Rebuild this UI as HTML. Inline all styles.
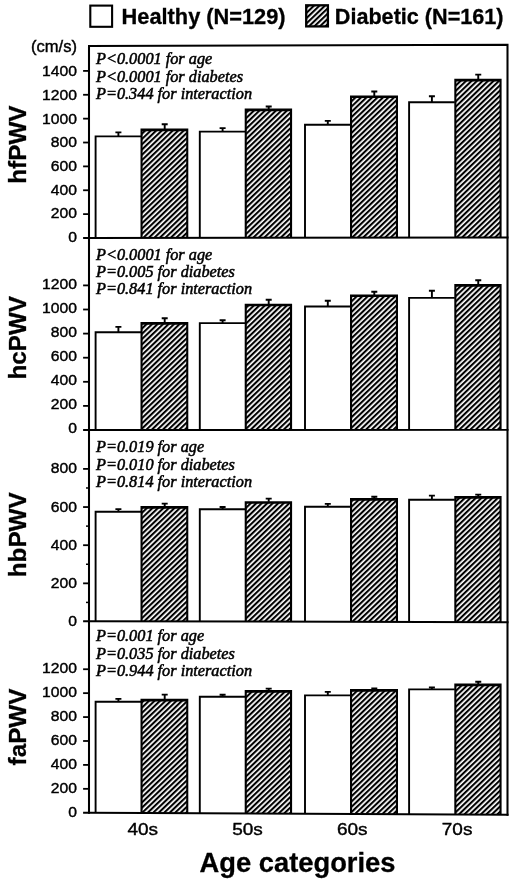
<!DOCTYPE html>
<html lang="en"><head><meta charset="utf-8"><title>PWV by age categories</title>
<style>
html,body{margin:0;padding:0;background:#fff;}
body{width:520px;height:882px;overflow:hidden;}
svg{display:block;}
.s{font-family:"Liberation Sans",Arial,Helvetica,sans-serif;fill:#000;stroke:#000;stroke-width:0.4px;}
.b{font-weight:bold;stroke-width:0.3px;}
.t{font-family:"Liberation Serif","Times New Roman",serif;font-style:italic;fill:#000;stroke:#000;stroke-width:0.5px;}
</style></head><body>
<svg width="520" height="882" viewBox="0 0 520 882">
<defs>
<pattern id="h" patternUnits="userSpaceOnUse" width="3.8" height="3.8" patternTransform="rotate(-43.8)">
<rect x="0" y="0" width="3.8" height="3.8" fill="#fff"/>
<rect x="0" y="0" width="3.8" height="2.1" fill="#000"/>
</pattern>
</defs>
<rect width="520" height="882" fill="#fff"/>

<rect x="90.3" y="5.6" width="21.8" height="21.2" fill="#fff" stroke="#000" stroke-width="2.1"/>
<text class="s b" transform="translate(121.60 24.10) scale(1.018 1)" font-size="21.4">Healthy (N=129)</text>
<rect x="306.2" y="5.3" width="21.7" height="21.1" fill="url(#h)" stroke="#000" stroke-width="2.3"/>
<text class="s b" transform="translate(334.80 23.60) scale(1.01 1)" font-size="21.4">Diabetic (N=161)</text>
<text class="s" transform="translate(31.00 52.00) scale(1.035 1)" font-size="16.0">(cm/s)</text>
<path d="M95.60 237.99V136.40H141.00" fill="none" stroke="#000" stroke-width="1.9"/>
<path d="M118.40 136.40V132.40M115.40 132.40H121.40" stroke="#000" stroke-width="1.9" fill="none"/>
<path d="M140.50 128.45H188.30V237.87L140.50 237.93Z" fill="#000"/>
<path d="M142.60 131.15H186.20V237.87L142.60 237.93Z" fill="url(#h)"/>
<path d="M164.70 128.95V124.30M161.70 124.30H167.70" stroke="#000" stroke-width="1.9" fill="none"/>
<path d="M199.80 237.85V131.60H245.20" fill="none" stroke="#000" stroke-width="1.9"/>
<path d="M222.60 131.60V128.10M219.60 128.10H225.60" stroke="#000" stroke-width="1.9" fill="none"/>
<path d="M244.70 108.50H292.10V237.73L244.70 237.80Z" fill="#000"/>
<path d="M246.80 111.20H290.00V237.73L246.80 237.80Z" fill="url(#h)"/>
<path d="M268.70 109.00V106.50M265.70 106.50H271.70" stroke="#000" stroke-width="1.9" fill="none"/>
<path d="M305.00 237.72V124.80H350.50" fill="none" stroke="#000" stroke-width="1.9"/>
<path d="M327.80 124.80V120.90M324.80 120.90H330.80" stroke="#000" stroke-width="1.9" fill="none"/>
<path d="M350.00 95.40H398.00V237.59L350.00 237.66Z" fill="#000"/>
<path d="M352.10 98.10H395.90V237.59L352.10 237.66Z" fill="url(#h)"/>
<path d="M374.30 95.90V91.50M371.30 91.50H377.30" stroke="#000" stroke-width="1.9" fill="none"/>
<path d="M409.10 237.58V102.20H454.80" fill="none" stroke="#000" stroke-width="1.9"/>
<path d="M431.90 102.20V96.20M428.90 96.20H434.90" stroke="#000" stroke-width="1.9" fill="none"/>
<path d="M454.30 78.85H501.60V237.46L454.30 237.52Z" fill="#000"/>
<path d="M456.40 81.55H499.50V237.46L456.40 237.52Z" fill="url(#h)"/>
<path d="M478.25 79.35V74.60M475.25 74.60H481.25" stroke="#000" stroke-width="1.9" fill="none"/>
<path d="M95.60 430.00V332.30H141.00" fill="none" stroke="#000" stroke-width="1.9"/>
<path d="M118.40 332.30V326.90M115.40 326.90H121.40" stroke="#000" stroke-width="1.9" fill="none"/>
<path d="M140.50 322.10H188.30V429.96L140.50 429.98Z" fill="#000"/>
<path d="M142.60 324.80H186.20V429.96L142.60 429.98Z" fill="url(#h)"/>
<path d="M164.70 322.60V318.30M161.70 318.30H167.70" stroke="#000" stroke-width="1.9" fill="none"/>
<path d="M199.80 429.96V323.10H245.20" fill="none" stroke="#000" stroke-width="1.9"/>
<path d="M222.60 323.10V320.20M219.60 320.20H225.60" stroke="#000" stroke-width="1.9" fill="none"/>
<path d="M244.70 303.65H292.10V429.93L244.70 429.94Z" fill="#000"/>
<path d="M246.80 306.35H290.00V429.93L246.80 429.94Z" fill="url(#h)"/>
<path d="M268.70 304.15V299.80M265.70 299.80H271.70" stroke="#000" stroke-width="1.9" fill="none"/>
<path d="M305.00 429.92V306.50H350.50" fill="none" stroke="#000" stroke-width="1.9"/>
<path d="M327.80 306.50V300.80M324.80 300.80H330.80" stroke="#000" stroke-width="1.9" fill="none"/>
<path d="M350.00 294.40H398.00V429.89L350.00 429.91Z" fill="#000"/>
<path d="M352.10 297.10H395.90V429.89L352.10 429.91Z" fill="url(#h)"/>
<path d="M374.30 294.90V291.70M371.30 291.70H377.30" stroke="#000" stroke-width="1.9" fill="none"/>
<path d="M409.10 429.89V297.90H454.80" fill="none" stroke="#000" stroke-width="1.9"/>
<path d="M431.90 297.90V290.80M428.90 290.80H434.90" stroke="#000" stroke-width="1.9" fill="none"/>
<path d="M454.30 284.00H501.60V429.85L454.30 429.87Z" fill="#000"/>
<path d="M456.40 286.70H499.50V429.85L456.40 429.87Z" fill="url(#h)"/>
<path d="M478.25 284.50V280.20M475.25 280.20H481.25" stroke="#000" stroke-width="1.9" fill="none"/>
<path d="M95.60 621.17V511.70H141.00" fill="none" stroke="#000" stroke-width="1.9"/>
<path d="M118.40 511.70V509.10M115.40 509.10H121.40" stroke="#000" stroke-width="1.9" fill="none"/>
<path d="M140.50 505.95H188.30V621.40L140.50 621.28Z" fill="#000"/>
<path d="M142.60 508.65H186.20V621.40L142.60 621.28Z" fill="url(#h)"/>
<path d="M164.70 506.45V503.65M161.70 503.65H167.70" stroke="#000" stroke-width="1.9" fill="none"/>
<path d="M199.80 621.43V509.20H245.20" fill="none" stroke="#000" stroke-width="1.9"/>
<path d="M222.60 509.20V507.00M219.60 507.00H225.60" stroke="#000" stroke-width="1.9" fill="none"/>
<path d="M244.70 501.15H292.10V621.66L244.70 621.54Z" fill="#000"/>
<path d="M246.80 503.85H290.00V621.66L246.80 621.54Z" fill="url(#h)"/>
<path d="M268.70 501.65V498.65M265.70 498.65H271.70" stroke="#000" stroke-width="1.9" fill="none"/>
<path d="M305.00 621.69V506.70H350.50" fill="none" stroke="#000" stroke-width="1.9"/>
<path d="M327.80 506.70V503.85M324.80 503.85H330.80" stroke="#000" stroke-width="1.9" fill="none"/>
<path d="M350.00 498.10H398.00V621.93L350.00 621.80Z" fill="#000"/>
<path d="M352.10 500.80H395.90V621.93L352.10 621.80Z" fill="url(#h)"/>
<path d="M374.30 498.60V496.70M371.30 496.70H377.30" stroke="#000" stroke-width="1.9" fill="none"/>
<path d="M409.10 621.95V499.80H454.80" fill="none" stroke="#000" stroke-width="1.9"/>
<path d="M431.90 499.80V495.60M428.90 495.60H434.90" stroke="#000" stroke-width="1.9" fill="none"/>
<path d="M454.30 495.95H501.60V622.19L454.30 622.07Z" fill="#000"/>
<path d="M456.40 498.65H499.50V622.19L456.40 622.07Z" fill="url(#h)"/>
<path d="M478.25 496.45V494.60M475.25 494.60H481.25" stroke="#000" stroke-width="1.9" fill="none"/>
<path d="M95.60 812.78V701.70H141.00" fill="none" stroke="#000" stroke-width="1.9"/>
<path d="M118.40 701.70V698.85M115.40 698.85H121.40" stroke="#000" stroke-width="1.9" fill="none"/>
<path d="M140.50 698.85H188.30V813.24L140.50 813.00Z" fill="#000"/>
<path d="M142.60 701.55H186.20V813.24L142.60 813.00Z" fill="url(#h)"/>
<path d="M164.70 699.35V694.60M161.70 694.60H167.70" stroke="#000" stroke-width="1.9" fill="none"/>
<path d="M199.80 813.29V696.70H245.20" fill="none" stroke="#000" stroke-width="1.9"/>
<path d="M222.60 696.70V694.80M219.60 694.80H225.60" stroke="#000" stroke-width="1.9" fill="none"/>
<path d="M244.70 690.00H292.10V813.74L244.70 813.51Z" fill="#000"/>
<path d="M246.80 692.70H290.00V813.74L246.80 813.51Z" fill="url(#h)"/>
<path d="M268.70 690.50V688.65M265.70 688.65H271.70" stroke="#000" stroke-width="1.9" fill="none"/>
<path d="M305.00 813.81V695.40H350.50" fill="none" stroke="#000" stroke-width="1.9"/>
<path d="M327.80 695.40V691.90M324.80 691.90H330.80" stroke="#000" stroke-width="1.9" fill="none"/>
<path d="M350.00 689.00H398.00V814.26L350.00 814.03Z" fill="#000"/>
<path d="M352.10 691.70H395.90V814.26L352.10 814.03Z" fill="url(#h)"/>
<path d="M374.30 689.50V688.40M371.30 688.40H377.30" stroke="#000" stroke-width="1.9" fill="none"/>
<path d="M409.10 814.32V689.40H454.80" fill="none" stroke="#000" stroke-width="1.9"/>
<path d="M431.90 689.40V687.50M428.90 687.50H434.90" stroke="#000" stroke-width="1.9" fill="none"/>
<path d="M454.30 683.45H501.60V814.77L454.30 814.54Z" fill="#000"/>
<path d="M456.40 686.15H499.50V814.77L456.40 814.54Z" fill="url(#h)"/>
<path d="M478.25 683.95V681.70M475.25 681.70H481.25" stroke="#000" stroke-width="1.9" fill="none"/>
<path d="M89.0 813.7V45.9L507.5 44.85V815.75" fill="none" stroke="#000" stroke-width="2.05" stroke-linejoin="miter"/>
<path d="M83.1 238.0H89.0L508.5 237.45" fill="none" stroke="#000" stroke-width="1.95"/>
<path d="M83.1 430.0H89.0L508.5 429.85" fill="none" stroke="#000" stroke-width="1.95"/>
<path d="M83.1 621.15H89.0L508.5 622.2" fill="none" stroke="#000" stroke-width="1.95"/>
<path d="M83.1 812.75H89.0L508.5 814.8" fill="none" stroke="#000" stroke-width="1.95"/>
<text class="s" transform="translate(76.90 242.08) scale(1.068 1)" font-size="14.7" text-anchor="end">0</text>
<path d="M83.1 214.13H89.0" stroke="#000" stroke-width="1.8"/>
<text class="s" transform="translate(76.90 218.39) scale(1.068 1)" font-size="14.7" text-anchor="end">200</text>
<path d="M83.1 190.26H89.0" stroke="#000" stroke-width="1.8"/>
<text class="s" transform="translate(76.90 194.70) scale(1.068 1)" font-size="14.7" text-anchor="end">400</text>
<path d="M83.1 166.39H89.0" stroke="#000" stroke-width="1.8"/>
<text class="s" transform="translate(76.90 171.01) scale(1.068 1)" font-size="14.7" text-anchor="end">600</text>
<path d="M83.1 142.52H89.0" stroke="#000" stroke-width="1.8"/>
<text class="s" transform="translate(76.90 147.33) scale(1.068 1)" font-size="14.7" text-anchor="end">800</text>
<path d="M83.1 118.65H89.0" stroke="#000" stroke-width="1.8"/>
<text class="s" transform="translate(76.90 123.64) scale(1.068 1)" font-size="14.7" text-anchor="end">1000</text>
<path d="M83.1 94.78H89.0" stroke="#000" stroke-width="1.8"/>
<text class="s" transform="translate(76.90 99.95) scale(1.068 1)" font-size="14.7" text-anchor="end">1200</text>
<path d="M83.1 70.91H89.0" stroke="#000" stroke-width="1.8"/>
<text class="s" transform="translate(76.90 76.26) scale(1.068 1)" font-size="14.7" text-anchor="end">1400</text>
<text class="s" transform="translate(76.90 432.85) scale(1.068 1)" font-size="14.7" text-anchor="end">0</text>
<path d="M83.1 405.90H89.0" stroke="#000" stroke-width="1.8"/>
<text class="s" transform="translate(76.90 408.93) scale(1.068 1)" font-size="14.7" text-anchor="end">200</text>
<path d="M83.1 381.80H89.0" stroke="#000" stroke-width="1.8"/>
<text class="s" transform="translate(76.90 385.02) scale(1.068 1)" font-size="14.7" text-anchor="end">400</text>
<path d="M83.1 357.70H89.0" stroke="#000" stroke-width="1.8"/>
<text class="s" transform="translate(76.90 361.10) scale(1.068 1)" font-size="14.7" text-anchor="end">600</text>
<path d="M83.1 333.60H89.0" stroke="#000" stroke-width="1.8"/>
<text class="s" transform="translate(76.90 337.18) scale(1.068 1)" font-size="14.7" text-anchor="end">800</text>
<path d="M83.1 309.50H89.0" stroke="#000" stroke-width="1.8"/>
<text class="s" transform="translate(76.90 313.27) scale(1.068 1)" font-size="14.7" text-anchor="end">1000</text>
<path d="M83.1 285.40H89.0" stroke="#000" stroke-width="1.8"/>
<text class="s" transform="translate(76.90 289.35) scale(1.068 1)" font-size="14.7" text-anchor="end">1200</text>
<text class="s" transform="translate(76.90 625.85) scale(1.068 1)" font-size="14.7" text-anchor="end">0</text>
<path d="M83.1 583.35H89.0" stroke="#000" stroke-width="1.8"/>
<text class="s" transform="translate(76.90 587.75) scale(1.068 1)" font-size="14.7" text-anchor="end">200</text>
<path d="M83.1 545.20H89.0" stroke="#000" stroke-width="1.8"/>
<text class="s" transform="translate(76.90 549.65) scale(1.068 1)" font-size="14.7" text-anchor="end">400</text>
<path d="M83.1 507.05H89.0" stroke="#000" stroke-width="1.8"/>
<text class="s" transform="translate(76.90 511.55) scale(1.068 1)" font-size="14.7" text-anchor="end">600</text>
<path d="M83.1 468.90H89.0" stroke="#000" stroke-width="1.8"/>
<text class="s" transform="translate(76.90 473.45) scale(1.068 1)" font-size="14.7" text-anchor="end">800</text>
<path d="M86.0 602.42H89.0" stroke="#000" stroke-width="1.5"/>
<path d="M86.0 564.27H89.0" stroke="#000" stroke-width="1.5"/>
<path d="M86.0 526.12H89.0" stroke="#000" stroke-width="1.5"/>
<path d="M86.0 487.98H89.0" stroke="#000" stroke-width="1.5"/>
<text class="s" transform="translate(76.90 816.65) scale(1.068 1)" font-size="14.7" text-anchor="end">0</text>
<path d="M83.1 788.83H89.0" stroke="#000" stroke-width="1.8"/>
<text class="s" transform="translate(76.90 792.77) scale(1.068 1)" font-size="14.7" text-anchor="end">200</text>
<path d="M83.1 764.91H89.0" stroke="#000" stroke-width="1.8"/>
<text class="s" transform="translate(76.90 768.89) scale(1.068 1)" font-size="14.7" text-anchor="end">400</text>
<path d="M83.1 740.99H89.0" stroke="#000" stroke-width="1.8"/>
<text class="s" transform="translate(76.90 745.01) scale(1.068 1)" font-size="14.7" text-anchor="end">600</text>
<path d="M83.1 717.07H89.0" stroke="#000" stroke-width="1.8"/>
<text class="s" transform="translate(76.90 721.14) scale(1.068 1)" font-size="14.7" text-anchor="end">800</text>
<path d="M83.1 693.15H89.0" stroke="#000" stroke-width="1.8"/>
<text class="s" transform="translate(76.90 697.26) scale(1.068 1)" font-size="14.7" text-anchor="end">1000</text>
<path d="M83.1 669.23H89.0" stroke="#000" stroke-width="1.8"/>
<text class="s" transform="translate(76.90 673.38) scale(1.068 1)" font-size="14.7" text-anchor="end">1200</text>
<text class="t" transform="translate(96.00 64.40) scale(1.018 1)" font-size="16">P&lt;0.0001 for age</text>
<text class="t" transform="translate(96.00 81.70) scale(1.018 1)" font-size="16">P&lt;0.0001 for diabetes</text>
<text class="t" transform="translate(96.00 99.00) scale(1.018 1)" font-size="16">P=0.344 for interaction</text>
<text class="t" transform="translate(96.00 259.50) scale(1.018 1)" font-size="16">P&lt;0.0001 for age</text>
<text class="t" transform="translate(96.00 276.80) scale(1.018 1)" font-size="16">P=0.005 for diabetes</text>
<text class="t" transform="translate(96.00 294.10) scale(1.018 1)" font-size="16">P=0.841 for interaction</text>
<text class="t" transform="translate(96.00 451.90) scale(1.018 1)" font-size="16">P=0.019 for age</text>
<text class="t" transform="translate(96.00 469.60) scale(1.018 1)" font-size="16">P=0.010 for diabetes</text>
<text class="t" transform="translate(96.00 487.30) scale(1.018 1)" font-size="16">P=0.814 for interaction</text>
<text class="t" transform="translate(96.00 641.40) scale(1.018 1)" font-size="16">P=0.001 for age</text>
<text class="t" transform="translate(96.00 658.70) scale(1.018 1)" font-size="16">P=0.035 for diabetes</text>
<text class="t" transform="translate(96.00 676.00) scale(1.018 1)" font-size="16">P=0.944 for interaction</text>
<text class="s b" transform="translate(25.90 144.60) rotate(-90) scale(1.03 1)" font-size="23.6" text-anchor="middle">hfPWV</text>
<text class="s b" transform="translate(25.90 337.80) rotate(-90) scale(1.024 1)" font-size="23.6" text-anchor="middle">hcPWV</text>
<text class="s b" transform="translate(25.90 534.75) rotate(-90) scale(1.03 1)" font-size="23.6" text-anchor="middle">hbPWV</text>
<text class="s b" transform="translate(25.90 727.00) rotate(-90) scale(1.03 1)" font-size="23.6" text-anchor="middle">faPWV</text>
<text class="s" transform="translate(142.70 834.70) scale(1.125 1)" font-size="16.9" text-anchor="middle">40s</text>
<text class="s" transform="translate(247.50 834.70) scale(1.125 1)" font-size="16.9" text-anchor="middle">50s</text>
<text class="s" transform="translate(352.30 834.70) scale(1.125 1)" font-size="16.9" text-anchor="middle">60s</text>
<text class="s" transform="translate(457.10 834.70) scale(1.125 1)" font-size="16.9" text-anchor="middle">70s</text>
<text class="s b" transform="translate(297.50 872.30) scale(1.02 1)" font-size="26.8" text-anchor="middle">Age categories</text>
</svg></body></html>
